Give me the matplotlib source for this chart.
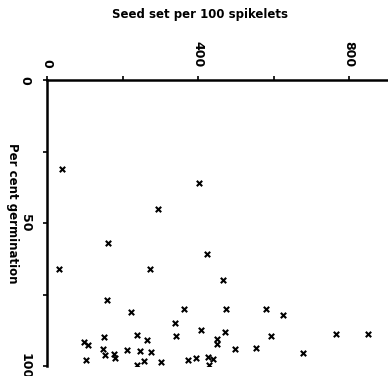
import matplotlib
matplotlib.use("Agg")
import matplotlib.pyplot as plt

seed_set = [39, 403, 293, 161, 33, 273, 424, 467, 159, 222, 362, 473, 580, 626,
            339, 408, 471, 341, 238, 264, 150, 97, 108, 593, 764, 851, 451, 451,
            148, 154, 177, 180, 212, 247, 276, 497, 553, 677, 104, 238, 258, 303,
            374, 395, 426, 440, 429]
germination = [31, 36, 45, 57, 66, 66, 61, 70, 77, 81, 80, 80, 80, 82,
               85, 87.5, 88, 89.6, 89.3, 91, 90, 91.6, 92.8, 89.6, 88.8, 88.9, 90.6, 92.3,
               94.2, 96, 95.8, 97.3, 94.4, 94.8, 95, 94.2, 93.7, 95.6, 97.9, 99.8, 98.1, 98.7,
               97.9, 97.2, 97.0, 97.4, 99.7]

x_ticks = [0, 200, 400, 600, 800]
x_labels = ["0", "", "400", "", "800"]
y_ticks = [0, 25, 50, 75, 100]
y_labels = ["0", "", "50", "", "100"]

fig = plt.figure(figsize=(3.88, 3.76), dpi=100)
ax = fig.add_axes([47/388, 1-366/376, 340/388, 286/376])
ax.scatter(seed_set, germination, marker="x", s=15, c="black", linewidths=1.5)

ax.set_xlim(0, 900)
ax.set_ylim(100, 0)
ax.xaxis.tick_top()
ax.xaxis.set_label_position("top")
ax.spines["right"].set_visible(False)
ax.spines["bottom"].set_visible(False)
ax.spines["top"].set_linewidth(1.8)
ax.spines["left"].set_linewidth(1.8)

ax.set_xticks(x_ticks)
ax.set_xticklabels(x_labels, rotation=-90, fontsize=9, fontweight="bold")
ax.set_yticks(y_ticks)
ax.set_yticklabels(y_labels, rotation=-90, fontsize=9, fontweight="bold", va="center")
ax.tick_params(axis="both", length=3, width=1.2, pad=6)
ax.tick_params(axis="y", pad=8)

ax.set_xlabel("Seed set per 100 spikelets", fontsize=8.5, fontweight="bold")
ax.xaxis.set_label_coords((200-47)/340, 1 + 62/286)
ax.set_ylabel("Per cent germination", fontsize=8.5, fontweight="bold", rotation=-90,
              va="center", ha="center")
ax.yaxis.set_label_coords((12-47)/340, 0.535)

fig.savefig("out.png", dpi=100)
